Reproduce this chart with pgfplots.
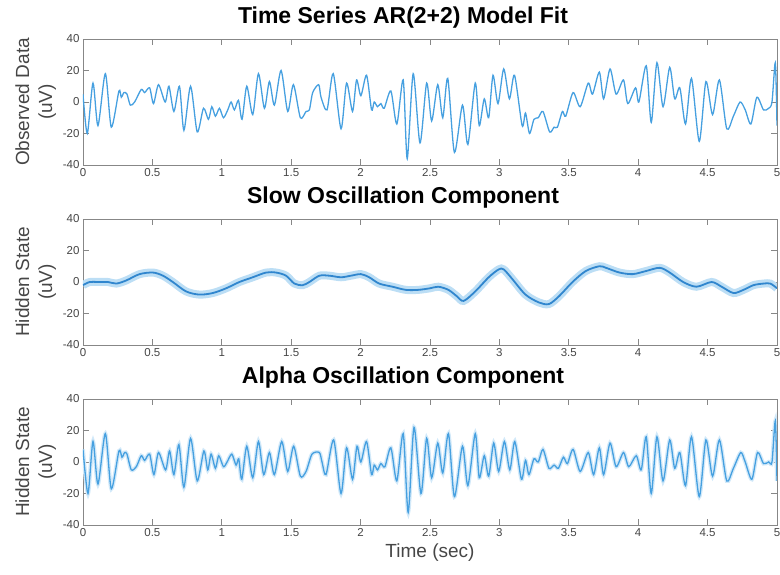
\documentclass[border=0pt]{standalone}
\usepackage{fontspec}
\setmainfont{Liberation Sans}
\usepackage{pgfplots}
\pgfplotsset{compat=1.18}
\usetikzlibrary{calc}

\definecolor{obsblue}{RGB}{70,160,224}
\definecolor{slowblue}{RGB}{48,134,206}
\definecolor{bandblue}{RGB}{188,222,245}
\definecolor{alphaband}{RGB}{210,233,249}
\definecolor{axgray}{RGB}{135,135,135}
\definecolor{lblgray}{RGB}{70,70,70}

\pgfplotsset{
  eeg/.style={
    scale only axis, width=694pt, height=126pt,
    xmin=0, xmax=5, ymin=-40, ymax=40,
    xtick={0,0.5,1,1.5,2,2.5,3,3.5,4,4.5,5},
    xticklabels={0,0.5,1,1.5,2,2.5,3,3.5,4,4.5,5},
    ytick={-40,-20,0,20,40},
    tick align=inside, major tick length=6pt,
    axis line style={axgray, line width=0.9pt},
    tick style={axgray, line width=0.9pt},
    /pgf/number format/assume math mode=true,
    tick label style={font=\fontsize{11.5}{11.5}\selectfont, text=lblgray},
    title style={font=\bfseries\fontsize{23}{24}\selectfont, at={(0.5,1)}, anchor=south,
      yshift=1pt, xshift=-27pt},
    ylabel style={font=\fontsize{19}{23}\selectfont, align=center, text=lblgray},
    xlabel style={font=\fontsize{19}{21}\selectfont, text=lblgray},
  }
}

\begin{document}
\begin{tikzpicture}
% ---------- observed data ----------
\begin{axis}[eeg, name=a1, title={Time Series AR(2+2) Model Fit},
  ylabel={Observed Data\\(uV)}]
\coordinate (tl) at (rel axis cs:0,1);
\addplot[obsblue, line width=1.3pt, smooth, tension=0.45] coordinates {
 (0,5) (0.031,-20) (0.072,12) (0.108,-15) (0.161,18) (0.204,-16) (0.259,7) (0.276,3)
 (0.295,6) (0.317,5) (0.341,-2) (0.372,0) (0.420,8) (0.444,6) (0.480,9) (0.508,-1)
 (0.544,11) (0.592,0) (0.619,10) (0.655,-6) (0.695,10) (0.727,-18) (0.775,10) (0.823,-19)
 (0.868,-4) (0.904,-11) (0.928,-3) (0.954,-9) (0.983,-4) (1.012,-10) (1.043,-5) (1.067,0)
 (1.091,-5) (1.120,1) (1.146,-11) (1.180,10) (1.223,-8) (1.264,18) (1.307,-4) (1.343,13)
 (1.379,-2) (1.427,20) (1.475,-6) (1.516,11) (1.566,-10) (1.607,-6) (1.631,-5) (1.655,6)
 (1.698,11) (1.715,3) (1.758,-5) (1.803,18) (1.859,-17) (1.899,12) (1.942,-6) (1.971,14)
 (2.002,4) (2.043,17) (2.079,-5) (2.098,0) (2.122,-3) (2.146,-1) (2.170,-4) (2.218,7)
 (2.261,-14) (2.307,14) (2.336,-36) (2.379,18) (2.428,-26) (2.476,12) (2.512,-12) (2.556,11)
 (2.592,-10) (2.628,15) (2.676,-32) (2.734,-2) (2.773,-27) (2.826,12) (2.855,-15) (2.891,2)
 (2.923,-10) (2.954,17) (2.990,-1) (3.031,21) (3.072,2) (3.109,17) (3.164,-15) (3.188,-7)
 (3.217,-20) (3.249,-11) (3.280,-10) (3.314,-6) (3.362,-19) (3.394,-16) (3.418,-16) (3.454,-6)
 (3.478,-9) (3.531,6) (3.582,-3) (3.640,12) (3.671,5) (3.720,19) (3.751,2) (3.797,21)
 (3.841,5) (3.894,14) (3.925,-1) (3.981,9) (4.005,0) (4.058,23) (4.094,-13) (4.135,25)
 (4.179,-3) (4.227,22) (4.263,2) (4.300,9) (4.341,-14) (4.384,15) (4.440,-25) (4.488,13)
 (4.536,-8) (4.585,14) (4.638,-17) (4.686,-9) (4.734,0) (4.771,-5) (4.812,-14) (4.855,3)
 (4.903,-5) (4.940,-4) (4.964,0) (4.988,25) (5.0,-15)
};
\end{axis}

% ---------- slow oscillation ----------
\begin{axis}[eeg, at={(a1.south west)}, anchor=south west, yshift=-180pt,
  name=a2, title={Slow Oscillation Component}, ylabel={Hidden State\\(uV)}]
\pgfplotstableread{
t v
0 -2
0.048 0
0.108 0
0.180 0
0.240 -1
0.312 1
0.408 5
0.504 6
0.576 4
0.647 0
0.743 -6
0.839 -8
0.935 -7
1.031 -4
1.127 0
1.223 3
1.319 6
1.391 6
1.463 4
1.523 -1
1.583 -2
1.631 0
1.703 4
1.775 4
1.859 3
1.930 4
2.002 5
2.062 3
2.134 -1
2.230 -3
2.326 -5
2.415 -5
2.5 -4
2.560 -3
2.633 -5
2.693 -9
2.742 -12
2.826 -6
2.923 3
2.995 8
3.031 8
3.092 2
3.188 -8
3.285 -13
3.357 -14
3.430 -9
3.527 0
3.623 7
3.720 10
3.768 9
3.865 6
3.961 5
4.058 7
4.155 9
4.227 6
4.324 0
4.420 -3
4.529 0
4.601 -3
4.686 -7
4.758 -5
4.831 -2
4.903 -1
4.952 -1
5.0 -4
}\slowtab
\addplot[bandblue, line width=8pt, smooth, tension=0.5] table[x=t, y=v] {\slowtab};
\addplot[slowblue, line width=1.8pt, smooth, tension=0.5] table[x=t, y=v] {\slowtab};
\end{axis}

% ---------- alpha oscillation ----------
\begin{axis}[eeg, at={(a2.south west)}, anchor=south west, yshift=-180pt,
  name=a3, title={Alpha Oscillation Component}, ylabel={Hidden State\\(uV)},
  xlabel={Time (sec)}]
\pgfplotstableread{
t v
0 8
0.036 -20
0.072 13
0.108 -14
0.161 18
0.204 -17
0.259 7
0.281 3
0.300 6
0.317 5
0.348 -5
0.384 -3
0.420 4
0.444 1
0.480 5
0.511 -8
0.544 6
0.595 -5
0.624 7
0.655 -8
0.691 11
0.727 -16
0.775 15
0.823 -12
0.871 7
0.899 -5
0.923 5
0.954 -4
0.978 4
1.012 -3
1.038 0
1.072 5
1.103 -2
1.122 2
1.144 -11
1.180 10
1.223 -10
1.264 13
1.302 -8
1.343 6
1.379 -8
1.432 13
1.475 -6
1.518 10
1.566 -9
1.607 -6
1.650 5
1.703 6
1.722 0
1.751 -8
1.806 14
1.859 -20
1.899 9
1.942 -11
1.974 10
2.002 0
2.043 13
2.079 -8
2.098 -2
2.122 -5
2.146 -1
2.175 -3
2.218 9
2.261 -12
2.307 18
2.343 -32
2.385 22
2.435 -20
2.476 15
2.512 -10
2.556 12
2.592 -7
2.633 18
2.676 -22
2.734 10
2.773 -15
2.826 18
2.855 -10
2.891 4
2.923 -9
2.959 12
2.995 -6
3.036 13
3.075 -5
3.111 13
3.159 -11
3.188 1
3.213 -8
3.249 2
3.280 0
3.314 8
3.357 -4
3.394 -2
3.425 -4
3.461 3
3.490 -1
3.531 8
3.582 -6
3.640 6
3.679 -8
3.720 9
3.751 -8
3.797 12
3.841 -3
3.894 6
3.932 -3
3.986 4
4.022 -5
4.058 16
4.094 -20
4.135 16
4.179 -12
4.227 14
4.263 -4
4.300 6
4.341 -15
4.384 16
4.440 -22
4.488 14
4.536 -9
4.585 14
4.638 -12
4.686 -4
4.739 6
4.771 0
4.819 -11
4.860 6
4.903 -1
4.940 0
4.964 0
4.988 26
5.0 -12
}\alphatab
\addplot[alphaband, line width=4pt, smooth, tension=0.45] table[x=t, y=v] {\alphatab};
\addplot[obsblue, line width=1.3pt, smooth, tension=0.45] table[x=t, y=v] {\alphatab};
\end{axis}

\pgfresetboundingbox
\path[use as bounding box] ($(tl)+(-83pt,39pt)$) rectangle ++(780pt,-574pt);
\end{tikzpicture}
\end{document}
